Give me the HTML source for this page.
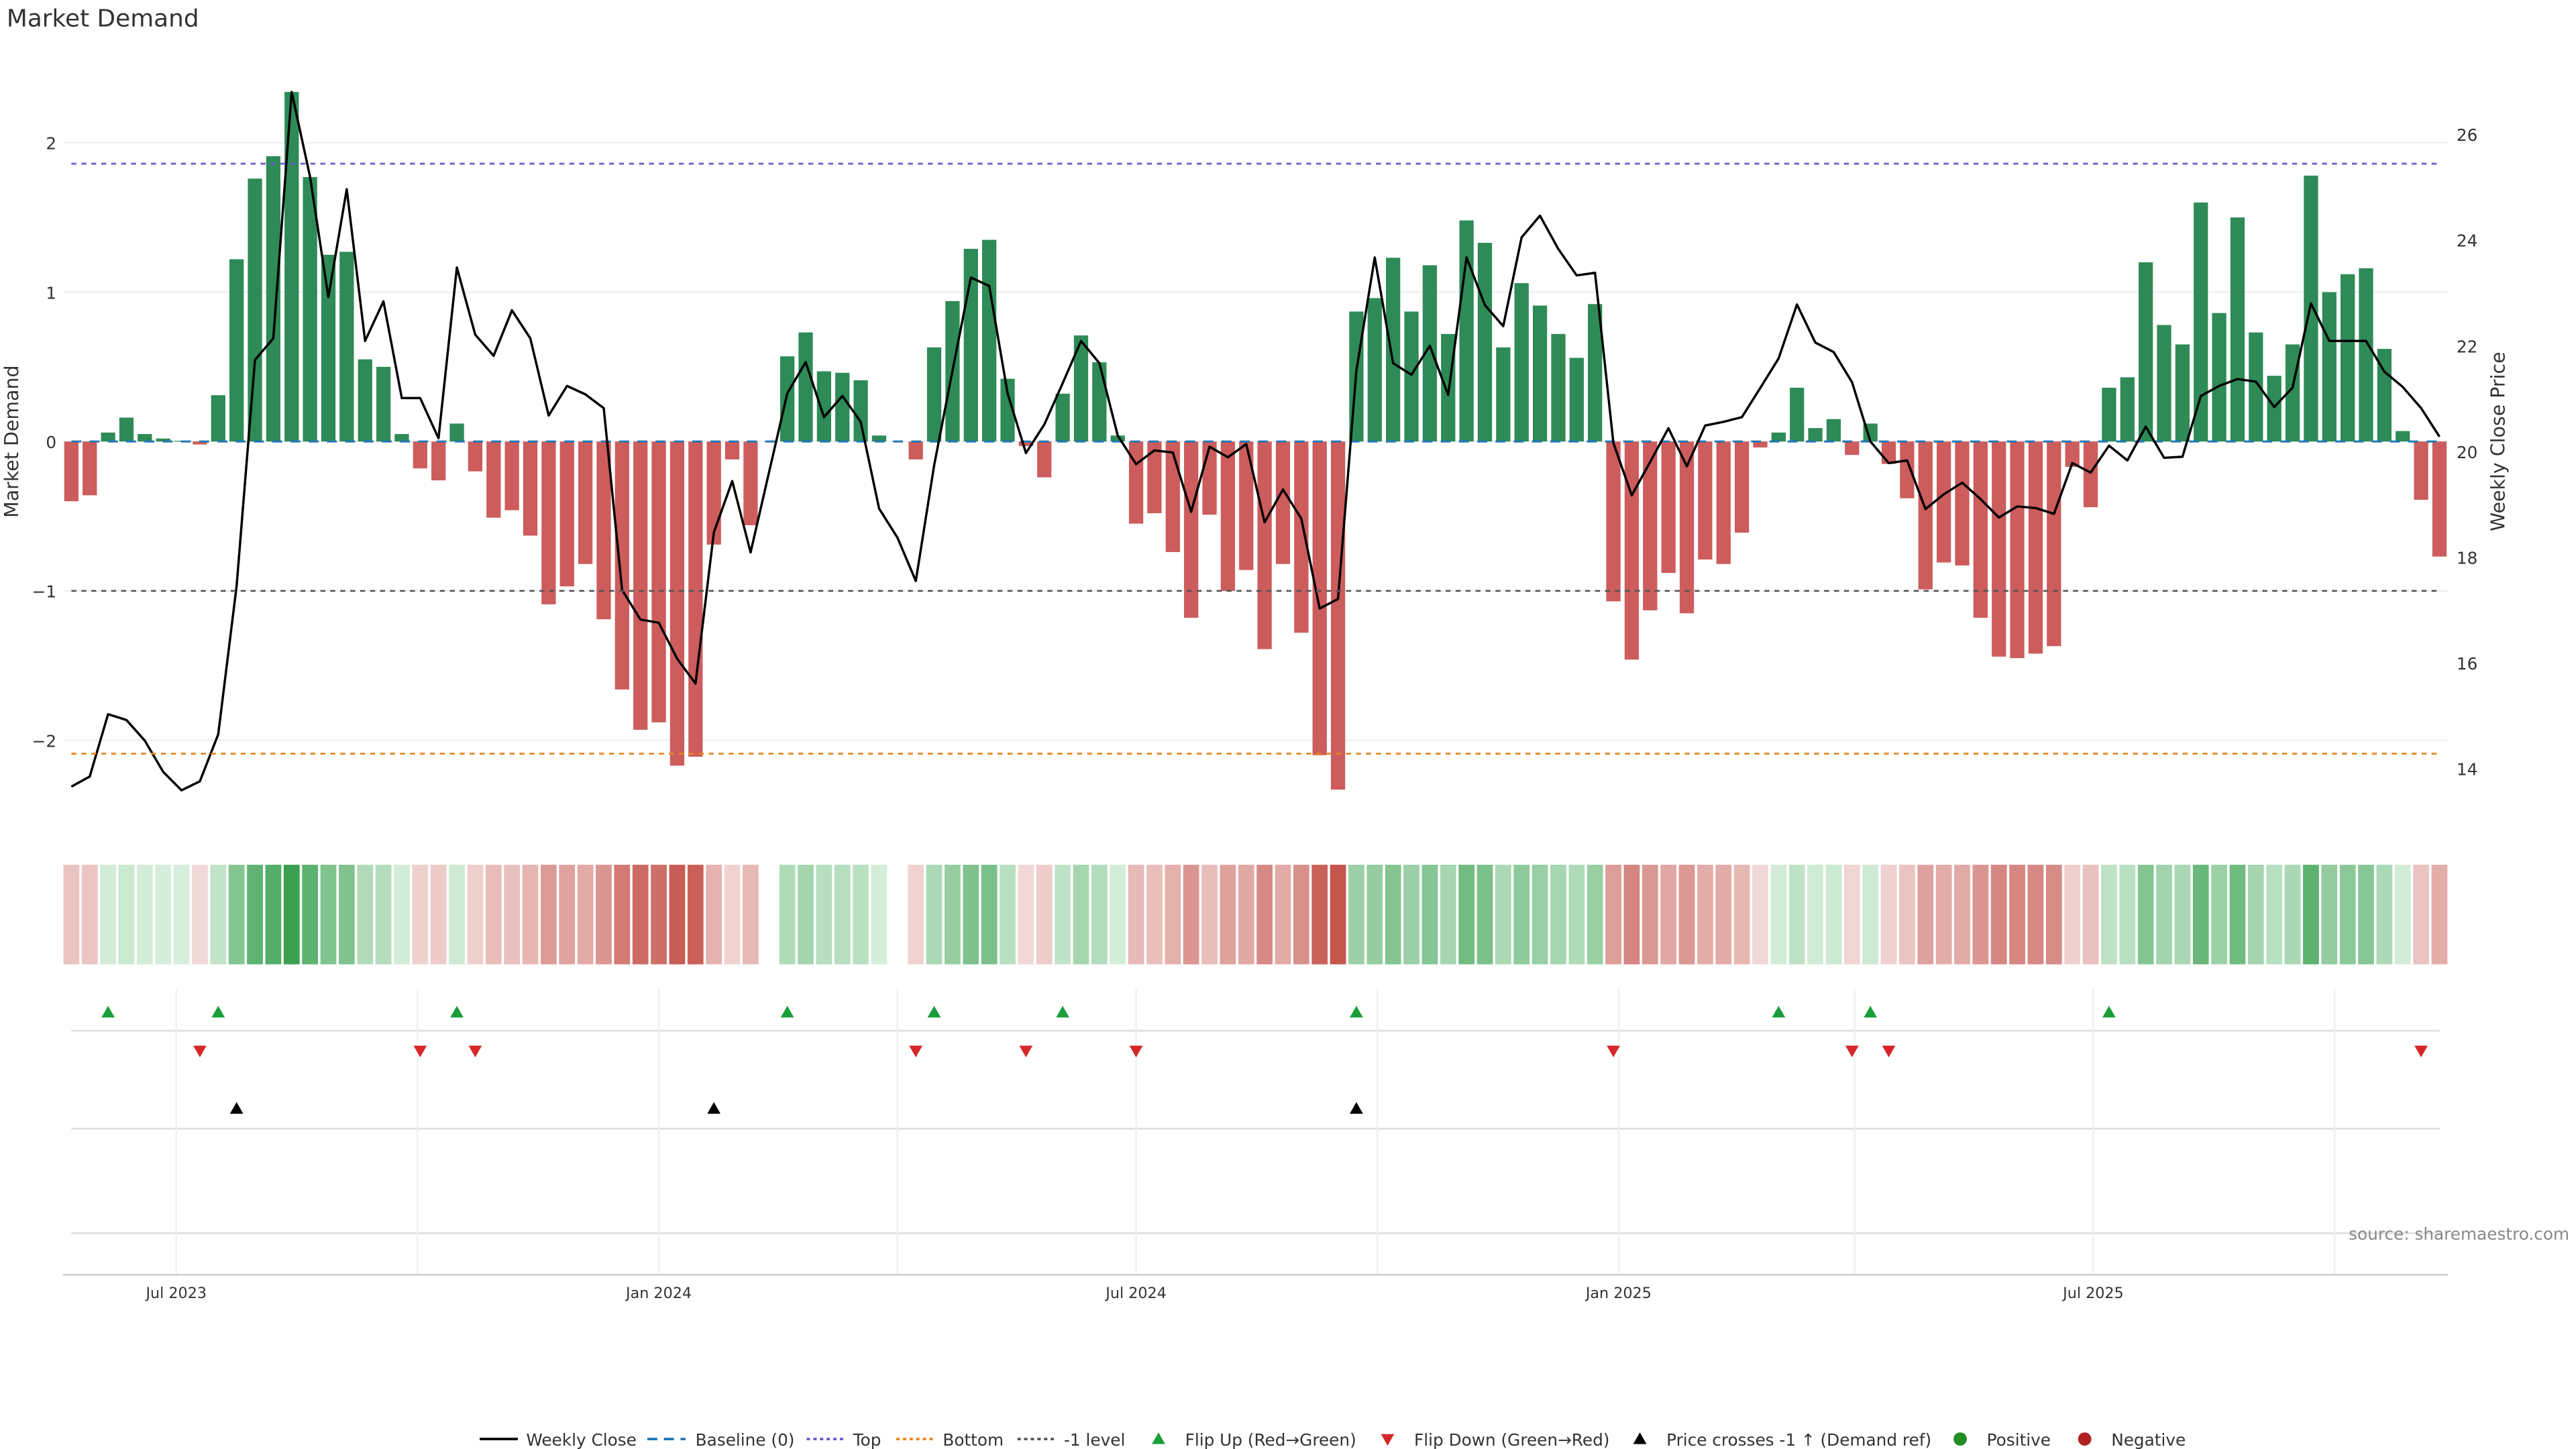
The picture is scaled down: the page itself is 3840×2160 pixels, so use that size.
<!DOCTYPE html>
<html><head><meta charset="utf-8"><style>
html,body{margin:0;padding:0;background:#fff;}
svg{display:block;font-family:"DejaVu Sans","Liberation Sans",sans-serif;}
</style></head><body>
<svg id="chart" width="3840" height="2160" viewBox="0 0 1552 873" xmlns="http://www.w3.org/2000/svg">
<text x="4" y="16" font-size="14.5" fill="#333">Market Demand</text>
<g id="grid"></g><g id="bars"></g><g id="line"></g><g id="axes"></g><g id="heat"></g><g id="markers"></g>
<text x="1548" y="747" font-size="10" fill="#888" text-anchor="end">source: sharemaestro.com</text>
<g id="legend"></g>
</svg>
<script>
const demand=[-0.40,-0.36,0.06,0.16,0.05,0.02,0.005,-0.02,0.31,1.22,1.76,1.91,2.34,1.77,1.25,1.27,0.55,0.50,0.05,-0.18,-0.26,0.12,-0.20,-0.51,-0.46,-0.63,-1.09,-0.97,-0.82,-1.19,-1.66,-1.93,-1.88,-2.17,-2.11,-0.69,-0.12,-0.56,0,0.57,0.73,0.47,0.46,0.41,0.04,0,-0.12,0.63,0.94,1.29,1.35,0.42,-0.03,-0.24,0.32,0.71,0.53,0.04,-0.55,-0.48,-0.74,-1.18,-0.49,-1.0,-0.86,-1.39,-0.82,-1.28,-2.10,-2.33,0.87,0.96,1.23,0.87,1.18,0.72,1.48,1.33,0.63,1.06,0.91,0.72,0.56,0.92,-1.07,-1.46,-1.13,-0.88,-1.15,-0.79,-0.82,-0.61,-0.04,0.06,0.36,0.09,0.15,-0.09,0.12,-0.15,-0.38,-0.99,-0.81,-0.83,-1.18,-1.44,-1.45,-1.42,-1.37,-0.17,-0.44,0.36,0.43,1.20,0.78,0.65,1.60,0.86,1.50,0.73,0.44,0.65,1.78,1.00,1.12,1.16,0.62,0.07,-0.39,-0.77];
const price=[13.66,13.85,15.03,14.92,14.53,13.94,13.59,13.76,14.65,17.45,21.73,22.14,26.80,25.20,22.92,24.96,22.09,22.84,21.01,21.01,20.25,23.48,22.21,21.81,22.67,22.14,20.68,21.24,21.08,20.82,17.38,16.82,16.76,16.08,15.61,18.47,19.44,18.09,19.60,21.10,21.69,20.65,21.05,20.56,18.92,18.37,17.55,19.74,21.53,23.29,23.13,21.10,19.97,20.51,21.29,22.09,21.67,20.30,19.76,20.02,19.98,18.86,20.09,19.89,20.14,18.66,19.28,18.73,17.03,17.21,21.53,23.67,21.67,21.45,22.00,21.07,23.67,22.77,22.37,24.05,24.46,23.83,23.33,23.38,20.16,19.17,19.80,20.44,19.72,20.49,20.56,20.65,21.20,21.76,22.78,22.06,21.88,21.31,20.19,19.78,19.83,18.91,19.19,19.41,19.10,18.75,18.96,18.93,18.82,19.78,19.60,20.11,19.83,20.47,19.88,19.90,21.05,21.24,21.37,21.32,20.84,21.21,22.80,22.09,22.09,22.09,21.51,21.22,20.82,20.28];
const leftTicks=[2,1,0,-1,-2];
const rightTicks=[26,24,22,20,18,16,14];
const refLevels=[1.86,-1,-2.09];
const xTickLabels=["Jul 2023","Jan 2024","Jul 2024","Jan 2025","Jul 2025"];
const xTickDates=["2023-07-01","2024-01-01","2024-07-01","2025-01-01","2025-07-01"];
const startDate="2023-05-22";

const NS="http://www.w3.org/2000/svg";
function mk(parent,tag,attrs){const e=document.createElementNS(NS,tag);for(const k in attrs)e.setAttribute(k,attrs[k]);parent.appendChild(e);return e;}
const X0=43,STEP=11.06,BW=8.6;
const xi=i=>X0+i*STEP;
const yL=v=>266-v*90;
const yR=p=>272-(p-20)*31.85;
const t0=Date.parse(startDate);
const xDate=d=>X0+(Date.parse(d)-t0)/(7*864e5)*STEP;
const g=id=>document.getElementById(id);

const grid=g('grid');
leftTicks.forEach(v=>{const l=mk(grid,'line',{x1:38,x2:1475,y1:yL(v),y2:yL(v),stroke:'#eef0f2','stroke-width':1});

});
const ax=g('axes');
leftTicks.forEach(v=>{const t=mk(ax,'text',{x:34,y:yL(v)+4,'font-size':10,fill:'#333','text-anchor':'end'});t.textContent=v<0?'\u2212'+(-v):String(v);

});
rightTicks.forEach(p=>{const t=mk(ax,'text',{x:1480,y:yR(p)+4,'font-size':10,fill:'#333'});t.textContent=p;

});
let t=mk(ax,'text',{x:11,y:266,'font-size':11.5,fill:'#333','text-anchor':'middle',transform:'rotate(-90 11 266)'});t.textContent='Market Demand';


t=mk(ax,'text',{x:1509,y:266,'font-size':11.5,fill:'#333','text-anchor':'middle',transform:'rotate(-90 1509 266)'});t.textContent='Weekly Close Price';


const refCol=['#6a5acd','#555','#e8861a'];
refLevels.forEach((v,k)=>{const l=mk(ax,'line',{x1:43,x2:1470,y1:yL(v),y2:yL(v),stroke:refCol[k],'stroke-width':1.1,'stroke-dasharray':'3 3'});

});
const bars=g('bars');
demand.forEach((v,i)=>{const y0=yL(0),y1=yL(v);const r=mk(bars,'rect',{x:xi(i)-BW/2,y:Math.min(y0,y1),width:BW,height:Math.abs(y1-y0),fill:v>=0?'#2e8b57':'#cd5c5c'});

});
const base=mk(bars,'line',{x1:43,x2:1470,y1:266,y2:266,stroke:'#1f77b4','stroke-width':1.2,'stroke-dasharray':'6 5'});


const pl=mk(g('line'),'polyline',{points:price.map((p,i)=>xi(i)+','+yR(p)).join(' '),fill:'none',stroke:'#000','stroke-width':1.4,'stroke-linejoin':'round'});


const heat=g('heat');
function mix(a,b,f){return 'rgb('+a.map((c,k)=>Math.round(c+(b[k]-c)*f)).join(',')+')';}
demand.forEach((v,i)=>{if(v===0)return;const f=Math.min(1,Math.abs(v)/2.3);
const col=v>0?mix([214,238,219],[58,160,80],f):mix([242,218,216],[197,86,78],f);
const r=mk(heat,'rect',{x:xi(i)-BW/2-0.5,y:521,width:BW+1,height:60,fill:col});

});
const mkr=g('markers');
[621,680,743].forEach(y=>{const l=mk(mkr,'line',{x1:43,x2:1470,y1:y,y2:y,stroke:'#ddd','stroke-width':1});

});
["2023-07-01","2023-10-01","2024-01-01","2024-04-01","2024-07-01","2024-10-01","2025-01-01","2025-04-01","2025-07-01","2025-10-01"].forEach(d=>{const x=xDate(d);
const l=mk(mkr,'line',{x1:x,x2:x,y1:596,y2:768,stroke:'#f0f0f0','stroke-width':1});

});
const axl=mk(mkr,'line',{x1:38,x2:1475,y1:768,y2:768,stroke:'#ccc','stroke-width':1});


xTickLabels.forEach((s,k)=>{const x=xDate(xTickDates[k]);const tt=mk(mkr,'text',{x:x,y:782,'font-size':9,fill:'#333','text-anchor':'middle'});tt.textContent=s;

});
function tri(x,y,up,col,name){const p=up?`${x-4},${y+3} ${x+4},${y+3} ${x},${y-4}`:`${x-4},${y-3} ${x+4},${y-3} ${x},${y+4}`;
const e=mk(mkr,'polygon',{points:p,fill:col});

}
let prev=0;
demand.forEach((v,i)=>{const s=Math.sign(v);if(s===0)return;
if(prev<0&&s>0)tri(xi(i),610,true,'#1a9e3a','flip-up-marker');
if(prev>0&&s<0)tri(xi(i),633,false,'#d62728','flip-down-marker');
prev=s;});
const thr=20+(272-yL(-1))/31.85;
price.forEach((p,i)=>{if(i>0&&price[i-1]<thr&&p>=thr)tri(xi(i),668,true,'#000','price-cross-marker');});
const lg=g('legend');const ly=867;
const items=[['line','#000','','Weekly Close',289,317],['line','#1f77b4','6 4','Baseline (0)',390,419],['line','#6a5acd','2 2','Top',486,514],['line','#e8861a','2 2','Bottom',540,568],['line','#555','2 2','-1 level',613,641],['up','#1a9e3a','','Flip Up (Red\u2192Green)',687,714],['down','#d62728','','Flip Down (Green\u2192Red)',825,852],['up','#000','','Price crosses -1 \u2191 (Demand ref)',977,1004],['dot','#228b22','','Positive',1170,1197],['dot','#b22222','','Negative',1245,1272]];
items.forEach(it=>{const grp=mk(lg,'g',{});


const lx=it[4];
if(it[0]==='line'){mk(grp,'line',{x1:lx,x2:lx+23,y1:ly,y2:ly,stroke:it[1],'stroke-width':1.5,'stroke-dasharray':it[2]});}
else if(it[0]==='dot'){mk(grp,'circle',{cx:lx+11,cy:ly,r:4,fill:it[1]});}
else{const x=lx+11;mk(grp,'polygon',{points:it[0]==='up'?`${x-4},${ly+3} ${x+4},${ly+3} ${x},${ly-4}`:`${x-4},${ly-3} ${x+4},${ly-3} ${x},${ly+4}`,fill:it[1]});}
const tx=mk(grp,'text',{x:it[5],y:ly+4,'font-size':10,fill:'#333'});tx.textContent=it[3];});
</script>
</body></html>
